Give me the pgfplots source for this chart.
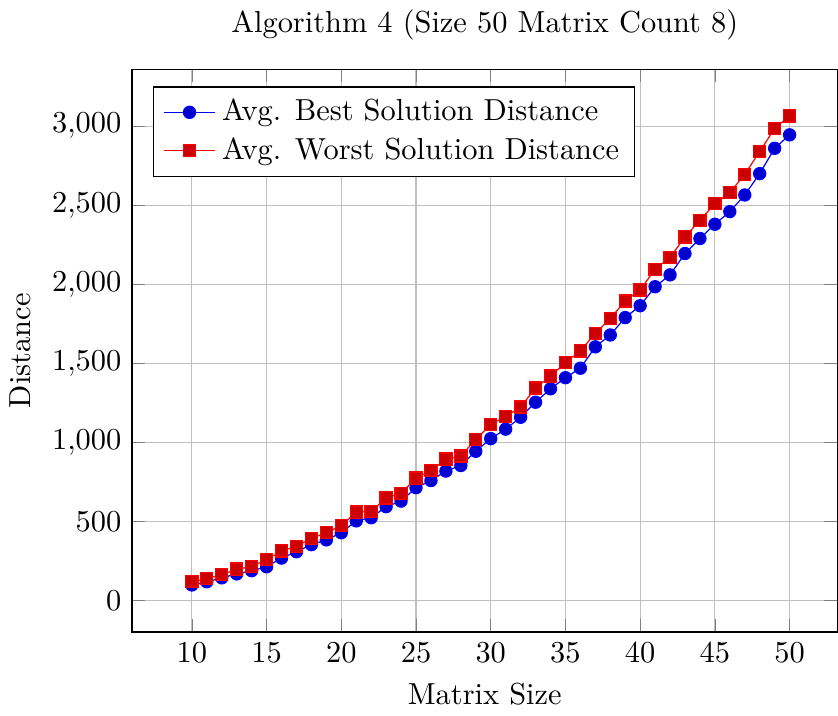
\documentclass[border=0pt]{standalone}
\usepackage{pgfplots}
\pgfplotsset{compat=1.18}
\begin{document}
\begin{tikzpicture}
\begin{axis}[
  scale only axis,
  width=232pt, height=185pt,
  title={Algorithm 4 (Size 50 Matrix Count 8)},
  xlabel={Matrix Size}, ylabel={Distance},
  xmin=6, xmax=53.2,
  ymin=-197, ymax=3358,
  xtick={10,15,...,50},
  ytick={0,500,...,3000},
  grid=major,
  legend pos=north west,
  legend cell align=left,
]
\addplot coordinates {
(10,100)(11,120)(12,145)(13,170)(14,190)(15,215)(16,270)(17,310)(18,355)(19,385)
(20,430)(21,505)(22,525)(23,595)(24,630)(25,715)(26,760)(27,820)(28,855)(29,945)
(30,1025)(31,1085)(32,1160)(33,1255)(34,1340)(35,1410)(36,1470)(37,1605)(38,1680)(39,1790)
(40,1865)(41,1985)(42,2060)(43,2195)(44,2290)(45,2380)(46,2460)(47,2565)(48,2700)(49,2860)
(50,2945)};
\addlegendentry{Avg. Best Solution Distance}
\addplot coordinates {
(10,120)(11,140)(12,165)(13,200)(14,215)(15,260)(16,315)(17,345)(18,395)(19,430)
(20,475)(21,560)(22,565)(23,650)(24,680)(25,775)(26,825)(27,895)(28,915)(29,1020)
(30,1115)(31,1165)(32,1225)(33,1345)(34,1420)(35,1505)(36,1580)(37,1690)(38,1785)(39,1895)
(40,1965)(41,2095)(42,2170)(43,2300)(44,2405)(45,2510)(46,2580)(47,2695)(48,2840)(49,2985)
(50,3065)};
\addlegendentry{Avg. Worst Solution Distance}
\end{axis}
\end{tikzpicture}
\end{document}
